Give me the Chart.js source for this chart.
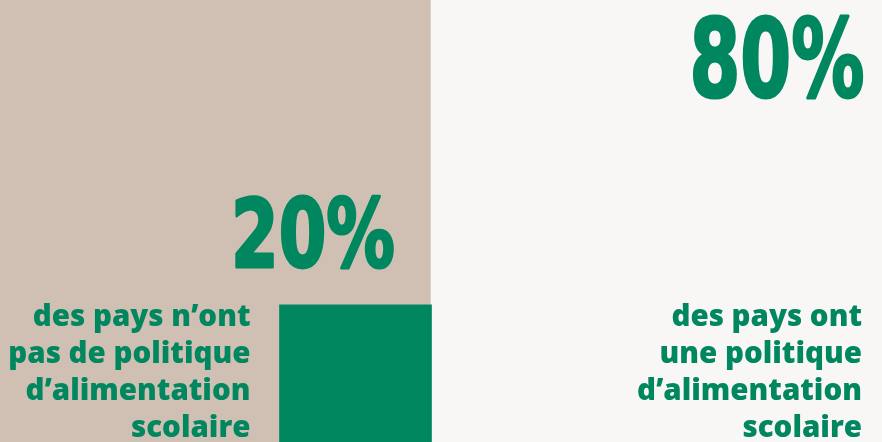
<!DOCTYPE html>
<html lang="fr">
<head>
<meta charset="utf-8">
<script src="https://cdn.jsdelivr.net/npm/chart.js@4"></script>
<style>
  html, body { margin: 0; padding: 0; background: #f8f7f5; }
  #wrap { width: 882px; height: 442px; }
</style>
</head>
<body>
<div id="wrap"><canvas id="politique"></canvas></div>
<script>
// share of countries with / without a school feeding policy
const categories = ['sans politique', 'avec politique'];
const sansPolitique = [20, null];
const avecPolitique = [null, 80];
const captions = [
  ['des pays n\u2019ont', 'pas de politique', 'd\u2019alimentation', 'scolaire'],
  ['des pays ont', 'une politique', 'd\u2019alimentation', 'scolaire']
];

const GREEN = '#00875f';
const BEIGE = '#cfc0b3';
const PAPER = '#f8f7f5';

const backdrop = {
  id: 'backdrop',
  beforeDraw(chart) {
    const ctx = chart.ctx;
    ctx.save();
    ctx.fillStyle = BEIGE;
    ctx.fillRect(0, 0, chart.width, chart.height);
    ctx.restore();
  }
};

// squeeze a big number into a given width, right aligned, a bit heavier
function drawNarrow(ctx, text, right, baseline, size, width) {
  ctx.save();
  ctx.font = `bold ${size}px 'DejaVu Sans', sans-serif`;
  ctx.textAlign = 'left';
  const w = ctx.measureText(text).width;
  const k = (width - 3) / w;
  ctx.translate(right - width + 1.5, baseline - 1);
  ctx.scale(k, 1);
  ctx.strokeStyle = GREEN;
  ctx.lineWidth = 3;
  ctx.lineJoin = 'round';
  ctx.strokeText(text, 0, 0);
  ctx.fillText(text, 0, 0);
  ctx.restore();
}

const labels = {
  id: 'labels',
  afterDraw(chart) {
    const ctx = chart.ctx;
    const left = chart.getDatasetMeta(0).data[0];
    const right = chart.getDatasetMeta(1).data[1];
    ctx.save();
    ctx.fillStyle = GREEN;
    ctx.textBaseline = 'alphabetic';

    drawNarrow(ctx, sansPolitique[0] + '%', left.x + left.width / 2 - 35, left.y - 37, 94, 167);
    drawNarrow(ctx, avecPolitique[1] + '%', right.x + right.width / 2 - 16, 97, 108, 178);

    ctx.textAlign = 'right';
    ctx.font = "800 29.5px 'Open Sans', sans-serif";
    const lineH = 37;
    captions[0].forEach((line, i) => {
      ctx.fillText(line, left.x - left.width / 2 - 29, 326 + i * lineH);
    });
    captions[1].forEach((line, i) => {
      ctx.fillText(line, right.x + right.width / 2 - 20, 326 + i * lineH);
    });
    ctx.restore();
  }
};

new Chart(document.getElementById('politique'), {
  type: 'bar',
  data: {
    labels: categories,
    datasets: [
      {
        label: 'sans politique',
        data: sansPolitique,
        backgroundColor: GREEN,
        barThickness: 152,
        clip: false
      },
      {
        label: 'avec politique',
        data: avecPolitique,
        backgroundColor: PAPER,
        barThickness: 451,
        clip: false
      }
    ]
  },
  options: {
    responsive: true,
    maintainAspectRatio: false,
    animation: false,
    layout: { padding: { left: 205, right: 75, top: 0, bottom: 0 } },
    datasets: { bar: { grouped: false } },
    scales: {
      x: { display: false },
      y: { display: false, min: 0, max: 64.5 }
    },
    plugins: {
      legend: { display: false },
      tooltip: { enabled: false }
    }
  },
  plugins: [backdrop, labels]
});
</script>
</body>
</html>
